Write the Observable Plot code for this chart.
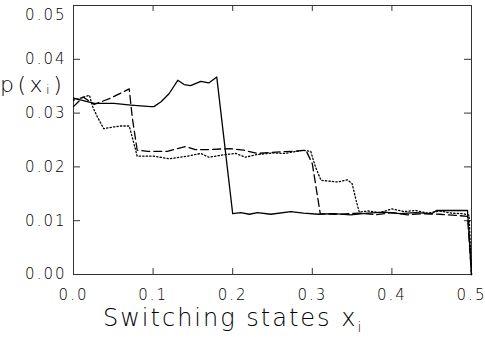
<!DOCTYPE html>
<html><head><meta charset="utf-8">
<script src="https://cdn.jsdelivr.net/npm/d3@7"></script>
<script src="https://cdn.jsdelivr.net/npm/@observablehq/plot@0.6"></script>
<style>
body{margin:0;background:#fff}
svg{display:block}
svg text{letter-spacing:2px;font-weight:200}
</style></head><body><div id="chart"></div>
<script>
// x ticks and y ticks
const xTicks = [0, 0.1, 0.2, 0.3, 0.4, 0.5];
const yTicks = [0, 0.01, 0.02, 0.03, 0.04];
const yTopTick = [0.05];

// solid series
const solidX = [0, 0.026, 0.051, 0.072, 0.097, 0.101, 0.110, 0.120, 0.131, 0.139, 0.147, 0.160, 0.170, 0.180, 0.200, 0.210, 0.221, 0.231, 0.248, 0.273, 0.289, 0.308, 0.327, 0.348, 0.370, 0.390, 0.410, 0.430, 0.450, 0.456, 0.495, 0.5];
const solidY = [0.0328, 0.0318, 0.0318, 0.0315, 0.0312, 0.0312, 0.0321, 0.0336, 0.0361, 0.0353, 0.0351, 0.0359, 0.0356, 0.0367, 0.0113, 0.0115, 0.0112, 0.0115, 0.0112, 0.0117, 0.0114, 0.0112, 0.0113, 0.0111, 0.0114, 0.0116, 0.0113, 0.0115, 0.0113, 0.0119, 0.0119, 0.0];

// dashed series
const dashedX = [0, 0.012, 0.026, 0.047, 0.070, 0.074, 0.080, 0.093, 0.118, 0.141, 0.153, 0.166, 0.196, 0.214, 0.231, 0.261, 0.277, 0.292, 0.300, 0.310, 0.33, 0.36, 0.38, 0.40, 0.42, 0.44, 0.46, 0.48, 0.495, 0.5];
const dashedY = [0.0312, 0.0330, 0.0316, 0.0328, 0.0345, 0.0290, 0.0231, 0.0229, 0.0229, 0.0238, 0.0232, 0.0232, 0.0234, 0.0231, 0.0225, 0.0228, 0.0229, 0.0231, 0.0206, 0.0113, 0.0112, 0.0114, 0.0111, 0.0115, 0.0111, 0.0113, 0.0112, 0.0110, 0.0108, 0.0];

// dotted series
const dottedX = [0, 0.020, 0.024, 0.030, 0.038, 0.049, 0.059, 0.070, 0.076, 0.080, 0.101, 0.120, 0.143, 0.160, 0.170, 0.191, 0.204, 0.216, 0.231, 0.252, 0.265, 0.288, 0.298, 0.304, 0.311, 0.332, 0.344, 0.350, 0.355, 0.359, 0.37, 0.385, 0.40, 0.415, 0.43, 0.445, 0.46, 0.475, 0.49, 0.497, 0.5];
const dottedY = [0.0324, 0.0333, 0.0312, 0.0293, 0.0271, 0.0274, 0.0276, 0.0276, 0.0243, 0.0220, 0.0220, 0.0215, 0.0220, 0.0225, 0.0218, 0.0223, 0.0225, 0.0218, 0.0223, 0.0226, 0.0225, 0.0231, 0.0229, 0.0200, 0.0175, 0.0172, 0.0176, 0.0169, 0.0138, 0.0116, 0.0118, 0.0115, 0.0122, 0.0117, 0.0119, 0.0114, 0.0118, 0.0114, 0.0113, 0.0110, 0.0];

const xLabel = "Switching states x";
const xLabelSub = "i";
const yLabel = ["p(x", "i", ")"];

const toRows = (xs, ys) => xs.map((x, i) => ({x, y: ys[i]}));
const solid = toRows(solidX, solidY);
const dashed = toRows(dashedX, dashedY);
const dotted = toRows(dottedX, dottedY);

const xTickLen = 0.0088; // ~7px in x data units
const yTickLen = 0.0011; // ~6px in y data units
const axisColor = "#333";

const plot = Plot.plot({
  width: 485, height: 337,
  marginLeft: 73, marginRight: 14, marginTop: 5, marginBottom: 63,
  style: {fontFamily: "DejaVu Sans", fontSize: "15px", color: "#000", background: "#fff"},
  x: {domain: [0, 0.5]},
  y: {domain: [0, 0.05]},
  marks: [
    Plot.frame({stroke: axisColor, strokeWidth: 1}),
    // inward ticks
    Plot.ruleY(yTicks.slice(1), {y: d => d, x1: 0, x2: xTickLen, stroke: axisColor}),
    Plot.ruleY(yTicks.slice(1), {y: d => d, x1: 0.5 - xTickLen, x2: 0.5, stroke: axisColor}),
    Plot.ruleX(xTicks.slice(1, -1), {x: d => d, y1: 0, y2: yTickLen, stroke: axisColor}),
    Plot.ruleX(xTicks.slice(1, -1), {x: d => d, y1: 0.05 - yTickLen, y2: 0.05, stroke: axisColor}),
    Plot.axisX(xTicks, {tickSize: 0, tickPadding: 15, tickFormat: d3.format(".1f"), label: null, fontSize: 15}),
    Plot.axisY(yTicks, {tickSize: 0, tickPadding: 7, tickFormat: d3.format(".2f"), label: null, fontSize: 15}),
    Plot.axisY(yTopTick, {tickSize: 0, tickPadding: 7, tickFormat: d3.format(".2f"), label: null, fontSize: 15, dy: 10}),
    Plot.line(solid, {x: "x", y: "y", stroke: "#000", strokeWidth: 1.3}),
    Plot.line(dashed, {x: "x", y: "y", stroke: "#000", strokeWidth: 1.3, strokeDasharray: "8,4"}),
    Plot.line(dotted, {x: "x", y: "y", stroke: "#000", strokeWidth: 1.3, strokeDasharray: "1.3,2.2"})
  ]
});
document.getElementById("chart").appendChild(plot);

const svg = d3.select(plot);
const yl = svg.append("text")
  .attr("x", 0).attr("y", 92).attr("text-anchor", "start")
  .attr("font-family", "DejaVu Sans").attr("font-size", 22).attr("fill", "#000")
  .style("letter-spacing", "3.5px");
yl.append("tspan").text(yLabel[0]);
yl.append("tspan").attr("font-size", 13).attr("dy", 2).text(yLabel[1]);
yl.append("tspan").attr("dy", -2).text(yLabel[2]);

const xl = svg.append("text")
  .attr("x", 103).attr("y", 326).attr("text-anchor", "start")
  .attr("font-family", "DejaVu Sans").attr("font-size", 24).attr("fill", "#000")
  .style("letter-spacing", "2px");
xl.append("tspan").text(xLabel);
xl.append("tspan").attr("font-size", 14).attr("dy", 6).text(xLabelSub);
</script></body></html>
